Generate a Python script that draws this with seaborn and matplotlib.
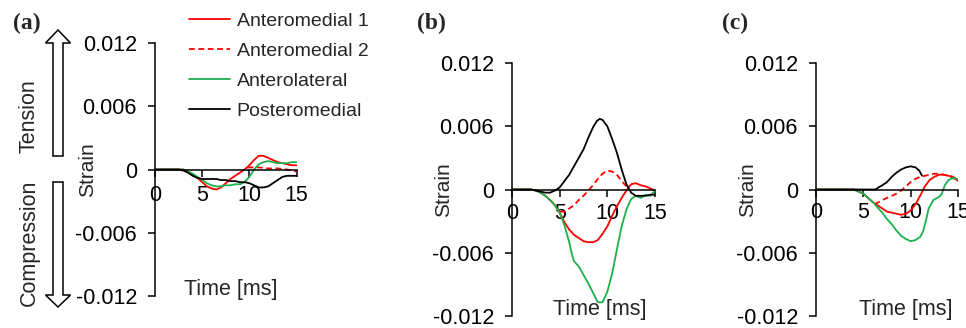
import matplotlib
matplotlib.use("Agg")
import matplotlib.pyplot as plt
import seaborn as sns
from matplotlib.patches import Polygon
from matplotlib.ticker import FixedLocator, FixedFormatter

# ---- data (time in ms, strain) ----
series_names = ["Anteromedial 1", "Anteromedial 2", "Anterolateral", "Posteromedial"]

# (a)
t_a = [0, 1, 2, 2.5, 3, 3.5, 4, 4.5, 5, 5.5, 6, 6.5, 7, 7.5, 8, 8.5, 9, 9.5,
       10, 10.5, 11, 11.5, 12, 12.5, 13, 13.5, 14, 14.5, 15]
a_am1 = [0, 0, 0, 0, 0, -0.0002, -0.0005, -0.0008, -0.0012, -0.0016, -0.0018, -0.0019,
         -0.0017, -0.0013, -0.0009, -0.0006, -0.0003, 0.0000, 0.0004, 0.0009, 0.0013,
         0.0013, 0.0011, 0.0009, 0.0007, 0.0006, 0.0005, 0.0004, 0.0004]
a_al = [0, 0, 0, 0, 0, -0.0002, -0.0004, -0.0007, -0.0010, -0.0013, -0.0015, -0.0016,
        -0.0016, -0.0015, -0.0015, -0.0014, -0.0014, -0.0012, -0.0007, 0.0000, 0.0005,
        0.0007, 0.0008, 0.0007, 0.0006, 0.0006, 0.0006, 0.0007, 0.0007]
a_pm = [0, 0, 0, 0, -0.0001, -0.0003, -0.0006, -0.0008, -0.0009, -0.0009, -0.0009, -0.0009,
        -0.0010, -0.0010, -0.0011, -0.0011, -0.0012, -0.0012, -0.0013, -0.0015, -0.0017,
        -0.0017, -0.0016, -0.0013, -0.0010, -0.0007, -0.0006, -0.0006, -0.0006]
t_a_am2 = [9.8, 11, 12, 13, 14, 15]
a_am2 = [0.0002, 0.0002, 0.0001, 0.0001, 0.0000, -0.0002]

# (b)
t_b = [0, 1, 2, 2.5, 3, 3.5, 4, 4.5, 5, 5.5, 6, 6.5, 7, 7.5, 8, 8.5, 9, 9.5,
       10, 10.5, 11, 11.5, 12, 12.5, 13, 13.5, 14, 14.5, 15]
b_am1 = [0, 0, 0, -0.0001, -0.0003, -0.0006, -0.0010, -0.0015, -0.0022, -0.0031, -0.0038,
         -0.0043, -0.0046, -0.0049, -0.0050, -0.0050, -0.0048, -0.0042, -0.0035, -0.0025,
         -0.0016, -0.0008, -0.0001, 0.0005, 0.0006, 0.0004, 0.0003, 0.0001, -0.0001]
t_b_pm = [0, 1, 2, 2.5, 3, 3.5, 4, 4.5, 5, 5.5, 6, 6.5, 7, 7.5, 8, 8.5, 8.9, 9.2, 9.5,
          10, 10.5, 11, 11.5, 12, 12.5, 13, 13.5, 14, 14.5, 15]
b_pm = [0, 0, 0, -0.0001, -0.0002, -0.0003, -0.0003, -0.0001, 0.0002, 0.0008, 0.0014,
        0.0022, 0.0030, 0.0038, 0.0049, 0.0059, 0.0065, 0.0067, 0.0066, 0.0060, 0.0048,
        0.0035, 0.0019, 0.0005, -0.0003, -0.0006, -0.0006, -0.0006, -0.0005, -0.0005]
t_b_al = [0, 1, 2, 2.5, 3, 3.5, 4, 4.5, 5, 5.5, 6, 6.3, 6.5, 7, 7.5, 8, 8.5, 9, 9.5,
          10, 10.5, 11, 11.5, 12, 12.5, 13, 13.5, 14, 14.5, 15]
b_al = [0, 0, 0, -0.0001, -0.0003, -0.0006, -0.0010, -0.0015, -0.0022, -0.0034, -0.0050,
        -0.0062, -0.0068, -0.0073, -0.0081, -0.0089, -0.0098, -0.0107, -0.0107, -0.0097,
        -0.0080, -0.0057, -0.0035, -0.0019, -0.0009, -0.0006, -0.0008, -0.0005, -0.0006,
        -0.0001]
t_b_am2 = [5, 5.5, 6, 6.5, 7, 7.5, 8, 8.5, 9, 9.5, 10, 10.5, 11, 11.5, 12, 12.3]
b_am2 = [-0.0021, -0.0021, -0.0018, -0.0015, -0.0010, -0.0006, -0.0001, 0.0004, 0.0010,
         0.0015, 0.0018, 0.0017, 0.0014, 0.0008, 0.0003, 0.0002]

# (c)
t_c = [0, 1, 2, 3, 4, 4.5, 5, 5.5, 6, 6.5, 7, 7.5, 8, 8.5, 9, 9.5, 10, 10.5,
       11, 11.5, 12, 12.5, 13, 13.5, 14, 14.5, 15]
c_am1 = [0, 0, 0, 0, 0, -0.0002, -0.0004, -0.0008, -0.0012, -0.0015, -0.0018, -0.0021,
         -0.0022, -0.0023, -0.0024, -0.0023, -0.0020, -0.0014, -0.0006, 0.0003, 0.0009,
         0.0012, 0.0014, 0.0014, 0.0013, 0.0012, 0.0008]
t_c_al = [0, 1, 2, 3, 4, 4.5, 5, 5.5, 6, 6.5, 7, 7.5, 8, 8.5, 9, 9.5, 10, 10.5, 11,
          11.3, 11.6, 11.9, 12.4, 13, 13.3, 13.6, 14, 14.5, 15]
c_al = [0, 0, 0, 0, 0, -0.0002, -0.0004, -0.0008, -0.0012, -0.0017, -0.0022, -0.0028,
        -0.0033, -0.0039, -0.0044, -0.0047, -0.0049, -0.0048, -0.0045, -0.0040, -0.0030,
        -0.0018, -0.0010, -0.0007, -0.0004, 0.0004, 0.0009, 0.0011, 0.0010]
t_c_am2 = [6.2, 7, 7.5, 8, 8.5, 9, 9.5, 10, 10.5, 11, 11.5, 12, 12.5, 13, 13.5, 14, 14.5, 15]
c_am2 = [-0.0014, -0.0010, -0.0008, -0.0006, -0.0004, -0.0001, 0.0003, 0.0007, 0.0010,
         0.0012, 0.0013, 0.0014, 0.0015, 0.0015, 0.0014, 0.0013, 0.0011, 0.0008]
t_c_pm = [0, 2, 4, 6.3, 6.6, 7, 7.5, 8, 8.5, 9, 9.5, 10, 10.5, 10.9, 11.2]
c_pm = [0, 0, 0, 0, 0.0002, 0.0004, 0.0007, 0.0012, 0.0016, 0.0019, 0.0021, 0.0022,
        0.0021, 0.0018, 0.0013]

y_ticks = [-0.012, -0.006, 0, 0.006, 0.012]
y_tick_labels = ["-0.012", "-0.006", "0", "0.006", "0.012"]
x_ticks = [0, 5, 10, 15]
x_tick_labels = ["0", "5", "10", "15"]

RED = "#FF0000"
GREEN = "#1DB04B"
BLACK = "#000000"
DASH = (0, (3.2, 2.0))

sns.set_style("ticks")
plt.rcParams["font.family"] = ["Liberation Sans", "DejaVu Sans"]
plt.rcParams["axes.unicode_minus"] = False

W, H = 966, 328
fig = plt.figure(figsize=(W / 100, H / 100), dpi=100)


def px(x, y):
    return (x / W, 1 - y / H)


def make_axes(left, top, right, bottom):
    l, b = px(left, bottom)
    return fig.add_axes([l, b, (right - left) / W, (bottom - top) / H])


ax_a = make_axes(155, 43, 296.5, 296)
ax_b = make_axes(512, 63, 655, 316)
ax_c = make_axes(816, 63, 958, 316)

panels = [
    (ax_a, [(t_a, a_am1, RED, "-"), (t_a_am2, a_am2, RED, DASH),
            (t_a, a_al, GREEN, "-"), (t_a, a_pm, BLACK, "-")]),
    (ax_b, [(t_b, b_am1, RED, "-"), (t_b_am2, b_am2, RED, DASH),
            (t_b_al, b_al, GREEN, "-"), (t_b_pm, b_pm, BLACK, "-")]),
    (ax_c, [(t_c, c_am1, RED, "-"), (t_c_am2, c_am2, RED, DASH),
            (t_c_al, c_al, GREEN, "-"), (t_c_pm, c_pm, BLACK, "-")]),
]

xlabel_pos = {ax_a: 0.537, ax_b: 0.615, ax_c: 0.634}
xtick_pad = {ax_a: 6.5, ax_b: 4.5, ax_c: 4}

for ax, lines in panels:
    for (t, s, col, ls), name in zip(lines, series_names):
        sns.lineplot(x=t, y=s, ax=ax, color=col, linestyle=ls, linewidth=1.3,
                     label=name if ax is ax_a else None, legend=False)

    ax.set_xlim(0, 15)
    ax.set_ylim(-0.012, 0.012)
    ax.spines["top"].set_visible(False)
    ax.spines["right"].set_visible(False)
    ax.spines["bottom"].set_position(("data", 0))
    for sp in ("left", "bottom"):
        ax.spines[sp].set_linewidth(1.1)
        ax.spines[sp].set_color("black")

    ax.yaxis.set_major_locator(FixedLocator(y_ticks))
    ax.yaxis.set_major_formatter(FixedFormatter(y_tick_labels))
    ax.xaxis.set_major_locator(FixedLocator(x_ticks))
    ax.xaxis.set_major_formatter(FixedFormatter(x_tick_labels))
    ax.tick_params(axis="both", direction="out", length=5, width=1.1,
                   color="black", labelsize=15.5, labelcolor="black")
    ax.tick_params(axis="y", pad=8)
    ax.tick_params(axis="x", pad=xtick_pad[ax])

    ax.set_xlabel("Time [ms]", fontsize=15.5)
    ax.xaxis.label.set_va("center")
    ax.xaxis.set_label_coords(xlabel_pos[ax], 0.024)
    ax.set_ylabel("Strain", fontsize=15)
    ax.yaxis.label.set_va("center")
    ax.yaxis.set_label_coords(-0.48, 0.5)
    ax.patch.set_alpha(0)

# legend from panel (a)
handles, labels = ax_a.get_legend_handles_labels()
fig.legend(handles, labels, loc="upper left", bbox_to_anchor=px(189, 12),
           frameon=False, fontsize=14, handlelength=2.1, handletextpad=0.36,
           labelspacing=0.64, borderpad=0, borderaxespad=0)

# panel letters
for letter, x in (("(a)", 13), ("(b)", 417), ("(c)", 722)):
    fig.text(*px(x, 23), letter, ha="left", va="center", fontsize=17,
             fontweight="bold", family=["Liberation Serif", "DejaVu Serif"])

# tension / compression arrows
up = [(53, 156), (53, 43), (45.5, 43), (58, 30), (70.5, 43), (63, 43), (63, 156)]
down = [(53, 182), (53, 295), (45.5, 295), (58, 307), (70.5, 295), (63, 295), (63, 182)]
for shape in (up, down):
    fig.patches.append(Polygon([px(x, y) for x, y in shape], closed=True,
                               transform=fig.transFigure, facecolor="white",
                               edgecolor="black", linewidth=1.1))
fig.text(*px(29, 116), "Tension", rotation=90, ha="center", va="center", fontsize=15.5)
fig.text(*px(29, 243), "Compression", rotation=90, ha="center", va="center", fontsize=15.5)

fig.savefig("out.png", dpi=100)
